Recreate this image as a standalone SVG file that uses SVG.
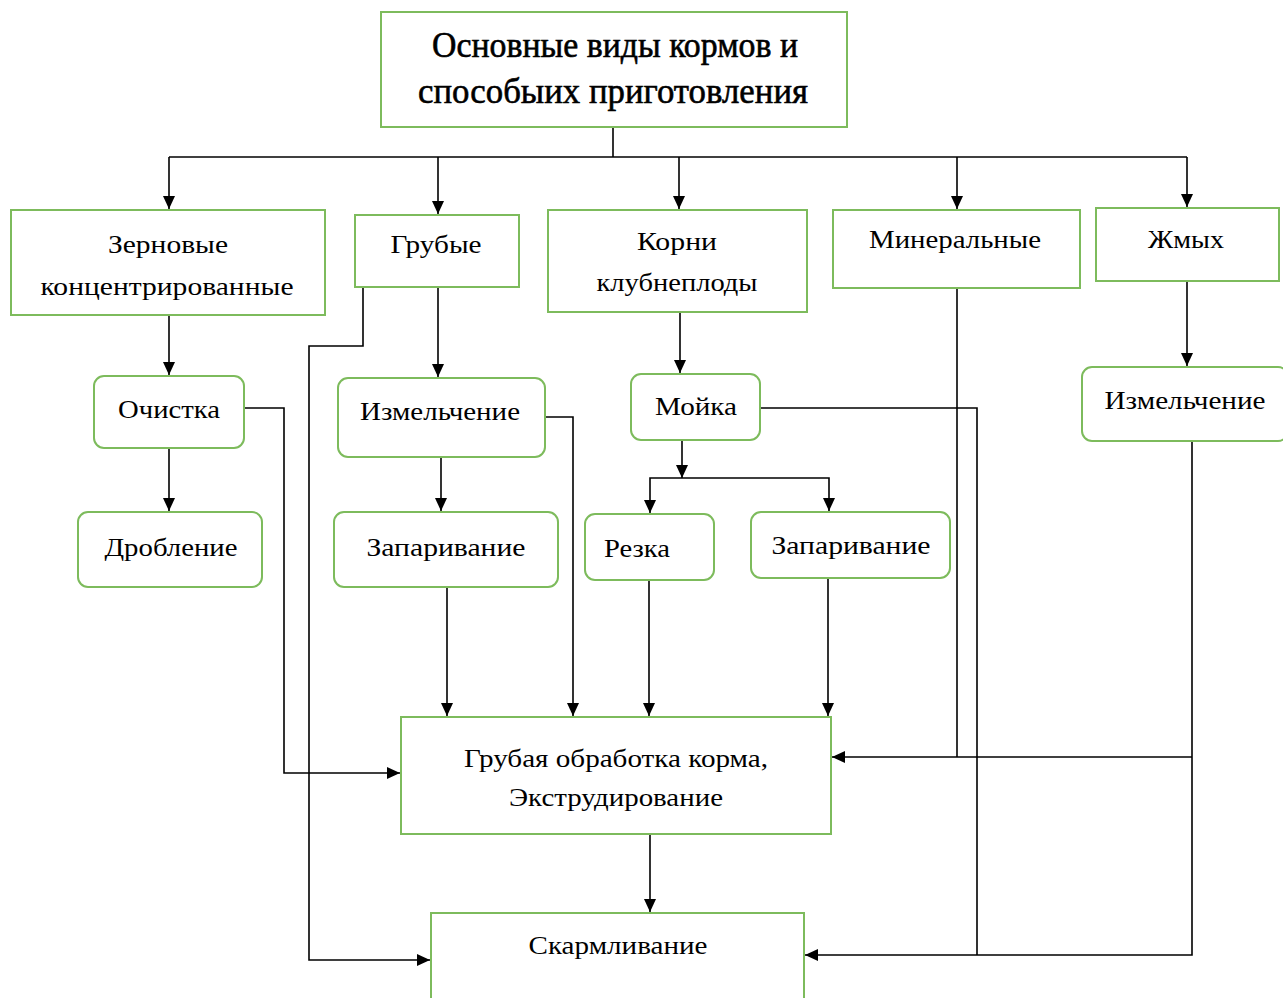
<svg xmlns="http://www.w3.org/2000/svg" width="1283" height="998" viewBox="0 0 1283 998">
<style>
.box{fill:#fff;stroke:#7dbb5c;stroke-width:2}
.t{font-family:"Liberation Serif","Times New Roman",serif;font-size:26px;fill:#000;text-anchor:middle}
.title{font-family:"Liberation Serif","Times New Roman",serif;font-size:36px;fill:#000;stroke:#000;stroke-width:0.6;text-anchor:middle}
.c{fill:none;stroke:#000;stroke-width:1.6}
.a{marker-end:url(#arr)}
</style>
<defs>
<marker id="arr" markerUnits="userSpaceOnUse" markerWidth="14" markerHeight="12" refX="13" refY="6" orient="auto">
<path d="M0,0 L13,6 L0,12 z" fill="#000"/>
</marker>
</defs>
<rect width="1283" height="998" fill="#fff"/>

<g id="connectors">
<path class="c" d="M613,127 V157"/>
<path class="c" d="M169,157 H1187"/>
<path class="c a" d="M169,157 V209"/>
<path class="c a" d="M438,157 V214"/>
<path class="c a" d="M679,157 V209"/>
<path class="c a" d="M957,157 V209"/>
<path class="c a" d="M1187,157 V207"/>
<path class="c a" d="M169,315 V375"/>
<path class="c a" d="M169,448 V511"/>
<path class="c a" d="M244,408 H284 V773 H400"/>
<path class="c a" d="M363,287 V346 H309 V960 H430"/>
<path class="c a" d="M438,287 V377"/>
<path class="c a" d="M441,457 V511"/>
<path class="c a" d="M545,417 H573 V716"/>
<path class="c a" d="M447,587 V716"/>
<path class="c a" d="M680,312 V373"/>
<path class="c a" d="M682,440 V478"/>
<path class="c a" d="M682,478 H650 V513"/>
<path class="c a" d="M682,478 H829 V511"/>
<path class="c a" d="M649,580 V716"/>
<path class="c a" d="M828,578 V716"/>
<path class="c" d="M760,408 H977 V955"/>
<path class="c" d="M957,288 V757"/>
<path class="c a" d="M1187,281 V366"/>
<path class="c a" d="M1192,441 V955 H805"/>
<path class="c a" d="M1192,757 H832"/>
<path class="c a" d="M650,834 V912"/>
</g>

<g id="n-title">
<rect class="box" x="381" y="12" width="466" height="115"/>
<text class="title" x="615" y="57" textLength="366" lengthAdjust="spacingAndGlyphs">Основные виды кормов и</text>
<text class="title" x="613" y="103" textLength="390" lengthAdjust="spacingAndGlyphs">способыих приготовления</text>
</g>

<g id="n-zernovye">
<rect class="box" x="11" y="210" width="314" height="105"/>
<text class="t" x="168" y="253" textLength="120" lengthAdjust="spacingAndGlyphs">Зерновые</text>
<text class="t" x="167" y="295" textLength="253" lengthAdjust="spacingAndGlyphs">концентрированные</text>
</g>

<g id="n-grubye">
<rect class="box" x="355" y="215" width="164" height="72"/>
<text class="t" x="436" y="253" textLength="91" lengthAdjust="spacingAndGlyphs">Грубые</text>
</g>

<g id="n-korni">
<rect class="box" x="548" y="210" width="259" height="102"/>
<text class="t" x="677" y="250" textLength="80" lengthAdjust="spacingAndGlyphs">Корни</text>
<text class="t" x="677" y="291" textLength="161" lengthAdjust="spacingAndGlyphs">клубнеплоды</text>
</g>

<g id="n-mineral">
<rect class="box" x="833" y="210" width="247" height="78"/>
<text class="t" x="955" y="248" textLength="172" lengthAdjust="spacingAndGlyphs">Минеральные</text>
</g>

<g id="n-zhmyh">
<rect class="box" x="1096" y="208" width="183" height="73"/>
<text class="t" x="1186" y="248" textLength="76" lengthAdjust="spacingAndGlyphs">Жмых</text>
</g>

<g id="n-ochistka">
<rect class="box" x="94" y="376" width="150" height="72" rx="10"/>
<text class="t" x="169" y="418" textLength="102" lengthAdjust="spacingAndGlyphs">Очистка</text>
</g>

<g id="n-droblenie">
<rect class="box" x="78" y="512" width="184" height="75" rx="10"/>
<text class="t" x="171" y="556" textLength="133" lengthAdjust="spacingAndGlyphs">Дробление</text>
</g>

<g id="n-izmel1">
<rect class="box" x="338" y="378" width="207" height="79" rx="10"/>
<text class="t" x="440" y="420" textLength="160" lengthAdjust="spacingAndGlyphs">Измельчение</text>
</g>

<g id="n-zapar1">
<rect class="box" x="334" y="512" width="224" height="75" rx="10"/>
<text class="t" x="446" y="556" textLength="159" lengthAdjust="spacingAndGlyphs">Запаривание</text>
</g>

<g id="n-moyka">
<rect class="box" x="631" y="374" width="129" height="66" rx="10"/>
<text class="t" x="696" y="415" textLength="82" lengthAdjust="spacingAndGlyphs">Мойка</text>
</g>

<g id="n-rezka">
<rect class="box" x="585" y="514" width="129" height="66" rx="10"/>
<text class="t" x="637" y="557" textLength="66" lengthAdjust="spacingAndGlyphs">Резка</text>
</g>

<g id="n-zapar2">
<rect class="box" x="751" y="512" width="199" height="66" rx="10"/>
<text class="t" x="851" y="554" textLength="159" lengthAdjust="spacingAndGlyphs">Запаривание</text>
</g>

<g id="n-izmel2">
<rect class="box" x="1082" y="367" width="206" height="74" rx="10"/>
<text class="t" x="1185" y="409" textLength="161" lengthAdjust="spacingAndGlyphs">Измельчение</text>
</g>

<g id="n-obrabotka">
<rect class="box" x="401" y="717" width="430" height="117"/>
<text class="t" x="616" y="767" textLength="304" lengthAdjust="spacingAndGlyphs">Грубая обработка корма,</text>
<text class="t" x="616" y="806" textLength="214" lengthAdjust="spacingAndGlyphs">Экструдирование</text>
</g>

<g id="n-skarm">
<rect class="box" x="431" y="913" width="373" height="100"/>
<text class="t" x="618" y="954" textLength="179" lengthAdjust="spacingAndGlyphs">Скармливание</text>
</g>
</svg>
